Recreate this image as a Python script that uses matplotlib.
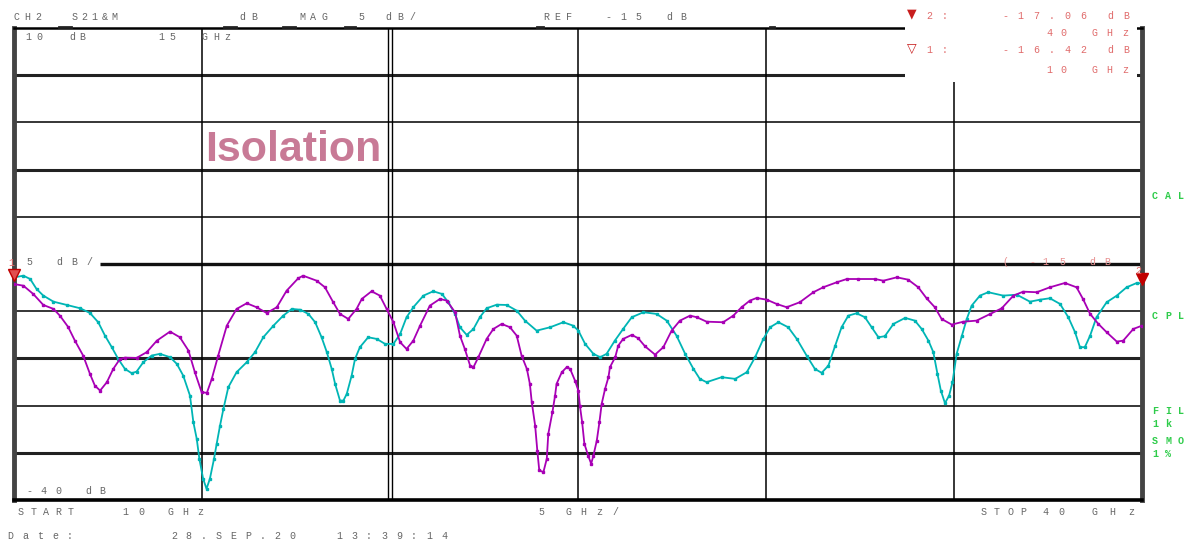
import numpy as np
import matplotlib
matplotlib.use("Agg")
import matplotlib.pyplot as plt
from matplotlib.patches import Rectangle

# sweep 10..40 GHz, trace values (dB)
freq_purple = [10.0, 10.25, 10.51, 10.78, 11.05, 11.22, 11.44, 11.62, 11.84, 12.02,
               12.15, 12.29, 12.47, 12.64, 12.82, 12.95, 13.26, 13.53, 13.80, 14.15,
               14.41, 14.64, 14.81, 14.99, 15.13, 15.26, 15.43, 15.66, 15.92, 16.19,
               16.45, 16.72, 16.99, 17.25, 17.56, 17.69, 18.05, 18.27, 18.49, 18.67,
               18.89, 19.11, 19.25, 19.51, 19.73, 19.91, 20.09, 20.27, 20.44, 20.62,
               20.80, 21.06, 21.33, 21.51, 21.73, 21.86, 21.99, 22.13, 22.22, 22.35,
               22.57, 22.75, 22.97, 23.19, 23.37, 23.50, 23.64, 23.72, 23.77, 23.86,
               23.92, 23.97, 24.08, 24.17, 24.21, 24.32, 24.39, 24.43, 24.57, 24.70,
               24.79, 24.92, 25.01, 25.05, 25.11, 25.17, 25.27, 25.35, 25.41, 25.50,
               25.57, 25.63, 25.72, 25.81, 25.85, 25.99, 26.07, 26.20, 26.43, 26.60,
               26.78, 27.05, 27.27, 27.49, 27.71, 27.98, 28.16, 28.42, 28.86, 29.13,
               29.35, 29.57, 29.75, 30.02, 30.28, 30.55, 30.90, 31.26, 31.52, 31.88,
               32.15, 32.45, 32.90, 33.12, 33.48, 33.78, 34.05, 34.27, 34.49, 34.67,
               34.94, 35.25, 35.60, 35.96, 36.27, 36.58, 36.84, 37.20, 37.55, 37.95,
               38.26, 38.43, 38.62, 38.84, 39.06, 39.33, 39.50, 39.77, 40.0]
db_purple = [-17.12, -17.30, -18.17, -19.34, -19.76, -20.47, -21.67, -23.12, -24.71, -26.64,
             -27.88, -28.41, -27.52, -26.11, -25.05, -24.92, -24.95, -24.34, -23.12, -22.16,
             -22.76, -24.17, -26.46, -28.58, -28.65, -27.17, -24.71, -21.53, -19.76, -19.16,
             -19.58, -20.19, -19.58, -17.83, -16.51, -16.24, -16.77, -17.47, -19.05, -20.29,
             -20.82, -19.76, -18.70, -17.89, -18.35, -19.76, -21.17, -23.29, -24.00, -23.12,
             -21.53, -19.41, -18.70, -18.88, -20.11, -22.59, -24.00, -25.76, -25.93, -24.87,
             -22.94, -21.88, -21.35, -21.70, -22.59, -24.71, -26.11, -27.70, -29.63, -32.11,
             -34.86, -36.87, -37.04, -35.63, -32.99, -30.69, -28.94, -27.70, -26.46, -25.93,
             -26.11, -27.35, -28.41, -30.00, -31.75, -34.05, -35.29, -36.16, -35.29, -33.70,
             -31.75, -29.81, -28.23, -26.99, -25.93, -24.87, -23.65, -22.94, -22.51, -22.86,
             -23.71, -24.60, -23.81, -22.06, -21.00, -20.47, -20.64, -21.11, -21.17, -20.47,
             -19.58, -18.88, -18.60, -18.78, -19.23, -19.58, -19.05, -17.99, -17.47, -16.94,
             -16.59, -16.59, -16.59, -16.77, -16.41, -16.66, -17.47, -18.63, -19.58, -20.82,
             -21.42, -21.11, -21.00, -20.29, -19.69, -18.35, -17.93, -17.99, -17.47, -17.01,
             -17.47, -18.70, -20.29, -21.35, -22.23, -23.22, -23.12, -21.88, -21.53]

freq_cyan = [10.0, 10.25, 10.43, 10.60, 10.78, 11.05, 11.40, 11.76, 12.02, 12.24,
             12.42, 12.60, 12.77, 12.95, 13.13, 13.26, 13.44, 13.66, 13.88, 14.15,
             14.33, 14.50, 14.68, 14.77, 14.86, 14.93, 15.03, 15.12, 15.21, 15.32,
             15.39, 15.48, 15.57, 15.70, 15.92, 16.19, 16.41, 16.63, 16.90, 17.16,
             17.39, 17.61, 17.83, 18.01, 18.18, 18.32, 18.45, 18.54, 18.67, 18.76,
             18.85, 18.98, 19.07, 19.20, 19.42, 19.65, 19.87, 20.09, 20.27, 20.44,
             20.62, 20.89, 21.15, 21.38, 21.55, 21.73, 21.86, 22.04, 22.22, 22.39,
             22.57, 22.84, 23.10, 23.37, 23.59, 23.90, 24.26, 24.61, 24.87, 25.01,
             25.19, 25.41, 25.59, 25.76, 25.98, 26.20, 26.43, 26.74, 27.09, 27.36,
             27.62, 27.85, 28.07, 28.24, 28.42, 28.82, 29.18, 29.49, 29.71, 29.93,
             30.11, 30.33, 30.59, 30.82, 31.08, 31.30, 31.48, 31.66, 31.84, 32.01,
             32.19, 32.41, 32.63, 32.81, 32.99, 33.16, 33.39, 33.70, 33.96, 34.14,
             34.32, 34.45, 34.56, 34.65, 34.76, 34.87, 34.96, 35.07, 35.21, 35.34,
             35.47, 35.69, 35.91, 36.31, 36.67, 37.02, 37.29, 37.55, 37.82, 38.04,
             38.22, 38.35, 38.48, 38.62, 38.79, 39.06, 39.33, 39.59, 39.86, 40.0]
db_cyan = [-16.42, -16.24, -16.59, -17.65, -18.35, -18.99, -19.34, -19.69, -20.19, -21.17,
           -22.59, -23.81, -25.05, -26.11, -26.57, -26.40, -25.40, -24.70, -24.52, -24.87,
           -25.58, -26.82, -28.94, -31.75, -33.52, -35.63, -37.75, -38.81, -37.75, -35.63,
           -34.05, -32.11, -30.34, -28.05, -26.46, -25.40, -24.34, -22.76, -21.53, -20.47,
           -19.76, -19.84, -20.29, -21.17, -22.76, -24.34, -26.11, -27.70, -29.47, -29.47,
           -28.76, -26.82, -25.05, -23.81, -22.76, -22.94, -23.47, -23.47, -22.41, -20.64,
           -19.58, -18.35, -17.89, -18.17, -19.05, -20.29, -21.70, -22.51, -21.88, -20.64,
           -19.69, -19.31, -19.34, -19.94, -21.00, -22.06, -21.70, -21.17, -21.53, -22.06,
           -23.47, -24.52, -24.87, -24.52, -23.12, -21.88, -20.64, -20.11, -20.29, -21.00,
           -22.59, -24.52, -26.11, -27.17, -27.52, -26.99, -27.17, -26.46, -24.87, -22.94,
           -21.70, -21.17, -21.70, -22.94, -24.70, -26.11, -26.53, -25.76, -23.65, -21.70,
           -20.47, -20.22, -20.64, -21.70, -22.76, -22.65, -21.35, -20.71, -21.00, -21.88,
           -23.12, -24.34, -26.64, -28.41, -29.74, -28.94, -27.52, -24.52, -22.59, -20.82,
           -19.41, -18.35, -17.99, -18.35, -18.25, -18.99, -18.78, -18.63, -19.23, -20.64,
           -22.23, -23.81, -23.81, -22.59, -20.64, -19.05, -18.35, -17.47, -17.01, -17.06]

start_ghz, stop_ghz, ghz_per_div = 10, 40, 5
ref_db, db_per_div = -15, 5
top_db, bottom_db = 10, -40

W, H = 1192, 541
fig = plt.figure(figsize=(W / 100, H / 100), dpi=100)
fig.patch.set_facecolor("white")
ax = fig.add_axes([14 / W, 41 / H, 1128 / W, 472 / H])
ax.set_xlim(start_ghz, stop_ghz)
ax.set_ylim(bottom_db, top_db)
ax.set_xticks([])
ax.set_yticks([])

# graticule: alternating heavy / light horizontal lines
levels = np.arange(top_db - db_per_div, bottom_db, -db_per_div)
for i, lv in enumerate(levels):
    heavy = i % 2 == 0
    if lv == ref_db:
        ax.hlines(lv, 12.3, stop_ghz, color="#111111", lw=2.4, zorder=1)
    elif heavy:
        ax.axhline(lv, color="#222222", lw=2.2, zorder=1)
    else:
        ax.axhline(lv, color="black", lw=1.1, zorder=1)
for f in np.arange(start_ghz + ghz_per_div, stop_ghz, ghz_per_div):
    if f == 20:
        ax.axvline(f - 0.04, color="black", lw=1.0, zorder=1)
        ax.axvline(f + 0.04, color="black", lw=1.0, zorder=1)
    else:
        ax.axvline(f, color="black", lw=1.1, zorder=1)

ax.spines["left"].set_linewidth(3.5)
ax.spines["left"].set_color("#444444")
ax.spines["right"].set_linewidth(3.5)
ax.spines["right"].set_color("#444444")
ax.spines["bottom"].set_linewidth(2.6)
ax.spines["top"].set_linewidth(1.8)

ax.plot(freq_cyan, db_cyan, color="#00b5b5", lw=1.3, marker="s", ms=1.8, zorder=3)
ax.plot(freq_purple, db_purple, color="#a800b5", lw=1.3, marker="s", ms=1.8, zorder=4)

# markers on the cyan trace
ax.plot(freq_cyan[0], db_cyan[0] + 0.3, marker="v", ms=8, mfc="#e05050", mec="#c00000",
        zorder=6, clip_on=False)
ax.plot(freq_cyan[-1], db_cyan[-1] + 0.5, marker="v", ms=8, color="#c00000",
        zorder=6, clip_on=False)

ax.text(15.08, -4.1, "Isolation", fontsize=31, fontweight="bold", color="#c87a96",
        family="Liberation Sans", va="baseline", ha="left", zorder=5)

# white box that hides the grid behind the marker readout
fig.patches.append(Rectangle((905 / W, 1 - 82 / H), 232 / W, 82 / H,
                             transform=fig.transFigure, facecolor="white",
                             edgecolor="none", zorder=2))

# little dashes sitting on the top border
for x0, x1 in [(59, 71), (224, 236), (283, 295), (345, 355), (537, 543), (770, 774)]:
    fig.add_artist(plt.Line2D([x0 / W, x1 / W], [1 - 27 / H, 1 - 27 / H],
                              color="#222222", lw=2.0, transform=fig.transFigure))

mono = "Liberation Mono"


def spaced(x0, x1, y, chars, color="#666666", size=7.2, weight="normal"):
    # instrument font: characters laid out on a wide, fixed pitch
    xs = [x0] if len(chars) == 1 else np.linspace(x0, x1, len(chars))
    for x, c in zip(xs, chars):
        fig.text(x / W, 1 - y / H, c, color=color, fontsize=size, ha="center",
                 va="center", family=mono, fontweight=weight, zorder=3)


spaced(16, 38, 17, "CH2")
spaced(75, 114, 17, "S21&M")
spaced(242, 254, 17, "dB")
spaced(302, 325, 17, "MAG")
spaced(361, 361, 17, "5")
spaced(388, 412, 17, "dB/")
spaced(546, 569, 17, "REF")
spaced(608, 638, 17, "-15")
spaced(669, 683, 17, "dB")

spaced(28, 39, 37, "10")
spaced(72, 82, 37, "dB")
spaced(161, 172, 37, "15")
spaced(205, 227, 37, "GHz")
spaced(29, 29, 262, "5")
spaced(59, 89, 262, "dB/")
spaced(29, 58, 491, "-40")
spaced(88, 102, 491, "dB")

spaced(21, 71, 512, "START")
spaced(125, 141, 512, "10")
spaced(171, 200, 512, "GHz")
spaced(541, 541, 512, "5")
spaced(568, 615, 512, "GHz/")
spaced(984, 1023, 512, "STOP")
spaced(1045, 1061, 512, "40")
spaced(1094, 1131, 512, "GHz")

spaced(10, 70, 536, "Date:")
spaced(174, 292, 536, "28.SEP.20")
spaced(339, 444, 536, "13:39:14")

green = "#2ecc4a"
spaced(1155, 1181, 196, "CAL", color=green, weight="bold")
spaced(1155, 1181, 316, "CPL", color=green, weight="bold")
spaced(1155, 1181, 411, "FIL", color=green, weight="bold")
spaced(1155, 1168, 424, "1k", color=green, weight="bold")
spaced(1155, 1181, 441, "SMO", color=green, weight="bold")
spaced(1155, 1168, 454, "1%", color=green, weight="bold")

red = "#e06a6a"
fig.text(912 / W, 1 - 14 / H, "\u25bc", color="#c81e1e", fontsize=9, ha="center",
         va="center", family="DejaVu Sans", zorder=3)
fig.text(912 / W, 1 - 48 / H, "\u25bd", color="#c81e1e", fontsize=9, ha="center",
         va="center", family="DejaVu Sans", zorder=3)
spaced(929, 945, 16, "2:", color=red)
spaced(1005, 1083, 16, "-17.06", color=red)
spaced(1110, 1126, 16, "dB", color=red)
spaced(1049, 1063, 33, "40", color=red)
spaced(1094, 1125, 33, "GHz", color=red)
spaced(929, 945, 50, "1:", color=red)
spaced(1005, 1083, 50, "-16.42", color=red)
spaced(1110, 1126, 50, "dB", color=red)
spaced(1049, 1063, 70, "10", color=red)
spaced(1094, 1125, 70, "GHz", color=red)

spaced(1005, 1005, 262, "(", color="#e89090")
spaced(1032, 1032, 262, "-", color="#e89090")
spaced(1045, 1062, 262, "15", color="#e89090")
spaced(1092, 1107, 262, "dB", color="#e89090")
spaced(1138, 1138, 271, "2", color=red)
spaced(11, 11, 263, "1", color=red)

fig.savefig("out.png", dpi=100, facecolor="white")
